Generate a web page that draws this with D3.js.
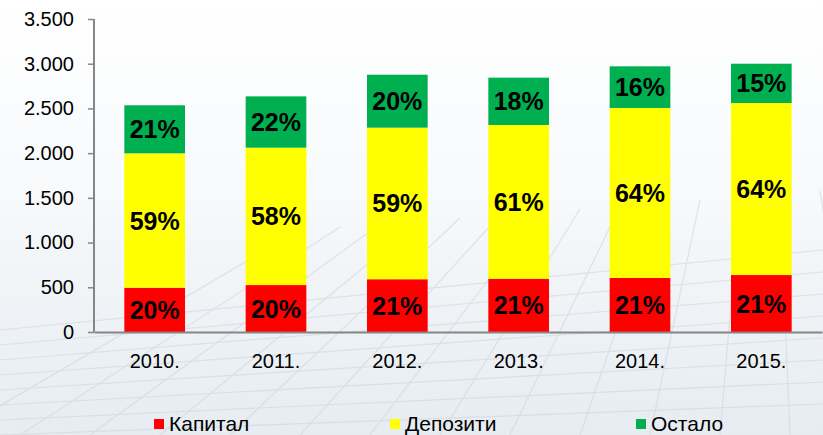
<!DOCTYPE html>
<html>
<head>
<meta charset="utf-8">
<script src="https://cdn.jsdelivr.net/npm/d3@7"></script>
<style>
  body { margin: 0; background: #fff; }
  svg text { font-family: "Liberation Sans", Arial, sans-serif; }
</style>
</head>
<body>
<div id="chart"></div>
<script>
// podaci sa slike
const years = ["2010.", "2011.", "2012.", "2013.", "2014.", "2015."];
const kapital = [495, 525, 590, 595, 605, 637];
const depoziti = [1503, 1536, 1695, 1720, 1900, 1924];
const ostalo = [537, 574, 592, 529, 466, 439];
const pctKapital = ["20%", "20%", "21%", "21%", "21%", "21%"];
const pctDepoziti = ["59%", "58%", "59%", "61%", "64%", "64%"];
const pctOstalo = ["21%", "22%", "20%", "18%", "16%", "15%"];
const yTicks = [0, 500, 1000, 1500, 2000, 2500, 3000, 3500];
const seriesNames = ["Капитал", "Депозити", "Остало"];
const colors = ["#ff0000", "#ffff00", "#00b050"];

const w = 823, h = 435;
const mLeft = 94, mRight = 822, mTop = 19, mBottom = 332;

const svg = d3.select("#chart").append("svg")
  .attr("width", w)
  .attr("height", h);

// pozadina (blagi gradijent)
const defs = svg.append("defs");
const grad = defs.append("linearGradient")
  .attr("id", "bg").attr("x1", 0).attr("y1", 0).attr("x2", 0).attr("y2", 1);
grad.append("stop").attr("offset", "0%").attr("stop-color", "#ffffff");
grad.append("stop").attr("offset", "45%").attr("stop-color", "#f7f9fb");
grad.append("stop").attr("offset", "100%").attr("stop-color", "#e6ecf1");
svg.append("rect").attr("width", w).attr("height", h).attr("fill", "url(#bg)");

const deco = svg.append("g").attr("stroke", "#cfd6dc").attr("stroke-width", 1.2).attr("opacity", 0.6);
for (let i = 0; i < 14; i++) {
  deco.append("line")
    .attr("x1", -50 + i * 70).attr("y1", 435)
    .attr("x2", 300 + i * 40).attr("y2", 230 - i * 3);
}
for (let i = 0; i < 8; i++) {
  deco.append("line")
    .attr("x1", 0).attr("y1", 330 + i * 15)
    .attr("x2", 823).attr("y2", 250 + i * 22);
}

const x = d3.scaleBand()
  .domain(years)
  .range([mLeft, mRight])
  .paddingInner(0.5)
  .paddingOuter(0.25);

const y = d3.scaleLinear()
  .domain([0, 3500])
  .range([mBottom, mTop]);

const data = years.map((yr, i) => ({
  year: yr,
  "Капитал": kapital[i],
  "Депозити": depoziti[i],
  "Остало": ostalo[i]
}));
const pcts = [pctKapital, pctDepoziti, pctOstalo];

const stack = d3.stack().keys(seriesNames)(data);

stack.forEach((s, si) => {
  const g = svg.append("g");
  g.selectAll("rect")
    .data(s)
    .join("rect")
    .attr("x", d => x(d.data.year))
    .attr("width", x.bandwidth())
    .attr("y", d => y(d[1]))
    .attr("height", d => y(d[0]) - y(d[1]))
    .attr("fill", colors[si]);
  g.selectAll("text")
    .data(s)
    .join("text")
    .attr("x", d => x(d.data.year) + x.bandwidth() / 2)
    .attr("y", d => (y(d[0]) + y(d[1])) / 2)
    .attr("dy", "0.36em")
    .attr("text-anchor", "middle")
    .attr("font-size", 25)
    .attr("font-weight", "bold")
    .attr("fill", "#000")
    .text((d, i) => pcts[si][i]);
});

// ose
const yAxis = d3.axisLeft(y)
  .tickValues(yTicks)
  .tickSize(6)
  .tickPadding(14)
  .tickFormat(d => d3.format(",")(d).replace(/,/g, "."));

const gy = svg.append("g")
  .attr("transform", "translate(" + mLeft + ",0)")
  .call(yAxis);
gy.select(".domain").attr("stroke", "#868686").attr("stroke-width", 2).attr("d", "M0," + mTop + "V" + mBottom);
gy.selectAll(".tick line").attr("stroke", "#868686").attr("stroke-width", 1.5);
gy.selectAll(".tick text").attr("font-size", 20).attr("fill", "#000")
  .attr("font-family", "'Liberation Sans', Arial, sans-serif");

const xAxis = d3.axisBottom(x).tickSize(0).tickPadding(22);
const gx = svg.append("g")
  .attr("transform", "translate(0," + mBottom + ")")
  .call(xAxis);
gx.select(".domain").attr("stroke", "#868686").attr("stroke-width", 2);
gx.selectAll(".tick text").attr("font-size", 20).attr("fill", "#000")
  .attr("font-family", "'Liberation Sans', Arial, sans-serif");

// legenda
const legendX = [154, 390, 636];
const leg = svg.append("g");
seriesNames.forEach((n, i) => {
  leg.append("rect")
    .attr("x", legendX[i]).attr("y", 419)
    .attr("width", 10).attr("height", 10)
    .attr("fill", colors[i]);
  leg.append("text")
    .attr("x", legendX[i] + 15).attr("y", 431)
    .attr("font-size", 21)
    .attr("fill", "#000")
    .text(n);
});
</script>
</body>
</html>
